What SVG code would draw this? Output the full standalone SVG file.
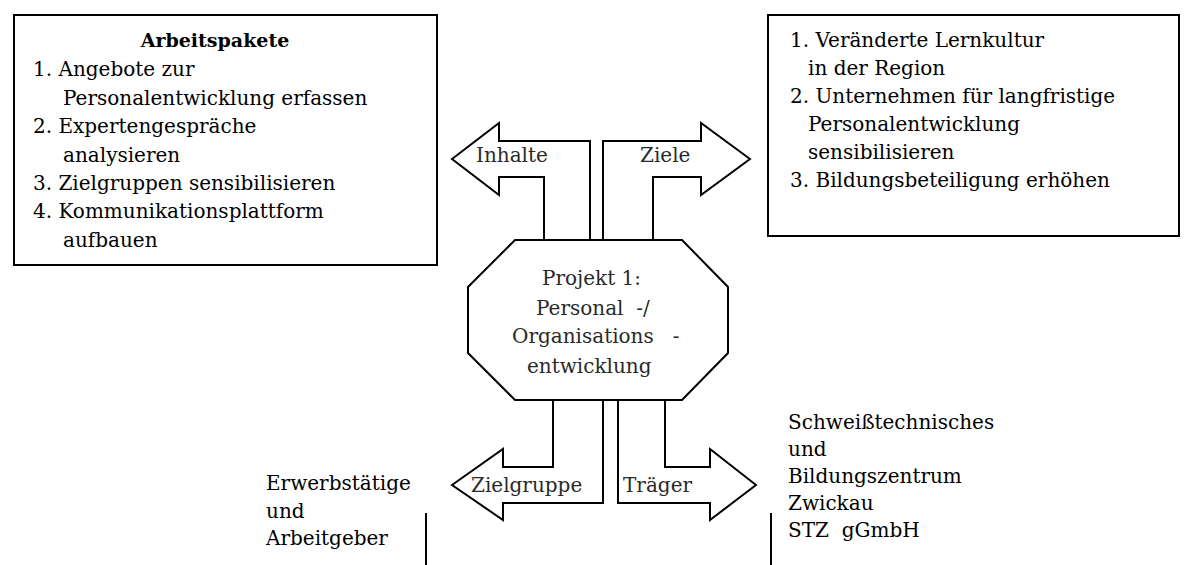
<svg xmlns="http://www.w3.org/2000/svg" width="1192" height="565" viewBox="0 0 1192 565">
<style>
.box{fill:#fff;stroke:#000;stroke-width:2}
.shape{fill:#fff;stroke:#000;stroke-width:2;stroke-linejoin:miter}
.line{fill:none;stroke:#000;stroke-width:2}
.t{font-family:"DejaVu Serif","Liberation Serif",serif;font-size:20px;fill:#000}
.h{font-family:"DejaVu Serif","Liberation Serif",serif;font-size:19px;font-weight:bold;fill:#000}
.l{font-family:"DejaVu Serif","Liberation Serif",serif;font-size:20px;fill:#2a2a2a}
</style>
<rect width="1192" height="565" fill="#fff"/>
<g id="arbeitspakete">
<rect class="box" x="14" y="15" width="423" height="250"/>
<text class="h" x="215" y="47" text-anchor="middle">Arbeitspakete</text>
<text class="t" x="33" y="76">1. Angebote zur</text>
<text class="t" x="63" y="105">Personalentwicklung erfassen</text>
<text class="t" x="33" y="133">2. Expertengespräche</text>
<text class="t" x="63" y="162">analysieren</text>
<text class="t" x="33" y="190">3. Zielgruppen sensibilisieren</text>
<text class="t" x="33" y="218">4. Kommunikationsplattform</text>
<text class="t" x="63" y="247">aufbauen</text>
</g>
<g id="ziele-box">
<rect class="box" x="768" y="15" width="411" height="221"/>
<text class="t" x="790" y="47">1. Veränderte Lernkultur</text>
<text class="t" x="808" y="75">in der Region</text>
<text class="t" x="790" y="103">2. Unternehmen für langfristige</text>
<text class="t" x="808" y="131">Personalentwicklung</text>
<text class="t" x="808" y="159">sensibilisieren</text>
<text class="t" x="790" y="187">3. Bildungsbeteiligung erhöhen</text>
</g>
<g id="connectors">
<g id="arrow-inhalte">
<path class="shape" d="M452,159 L499,123 L499,141 L590,141 L590,240 L544,240 L544,177 L499,177 L499,195 Z"/>
<text class="l" x="476" y="162">Inhalte</text>
</g>
<g id="arrow-ziele">
<path class="shape" d="M750,159 L701,123 L701,141 L603,141 L603,240 L653,240 L653,177 L701,177 L701,195 Z"/>
<text class="l" x="640" y="162">Ziele</text>
</g>
<g id="arrow-zielgruppe">
<path class="shape" d="M452,485 L503,449 L503,467 L553,467 L553,400 L603,400 L603,503 L503,503 L503,520 Z"/>
<text class="l" x="471" y="492">Zielgruppe</text>
</g>
<g id="arrow-traeger">
<path class="shape" d="M756,485 L710,449 L710,467 L665,467 L665,400 L618,400 L618,503 L710,503 L710,520 Z"/>
<text class="l" x="623" y="492">Träger</text>
</g>
<line class="line" x1="426" y1="513" x2="426" y2="565"/>
<line class="line" x1="771" y1="513" x2="771" y2="565"/>
</g>
<g id="projekt">
<polygon class="shape" points="515,240 682,240 728,287 728,353 682,400 515,400 468,353 468,287"/>
<text class="l" x="542" y="285">Projekt 1:</text>
<text class="l" x="536" y="315" xml:space="preserve">Personal  -/</text>
<text class="l" x="512" y="343" xml:space="preserve">Organisations   -</text>
<text class="l" x="527" y="373">entwicklung</text>
</g>
<g id="zielgruppe-text">
<text class="t" x="266" y="490">Erwerbstätige</text>
<text class="t" x="266" y="518">und</text>
<text class="t" x="266" y="545">Arbeitgeber</text>
</g>
<g id="traeger-text">
<text class="t" x="788" y="429">Schweißtechnisches</text>
<text class="t" x="788" y="456">und</text>
<text class="t" x="788" y="483">Bildungszentrum</text>
<text class="t" x="788" y="510">Zwickau</text>
<text class="t" x="788" y="537" xml:space="preserve">STZ  gGmbH</text>
</g>
</svg>
